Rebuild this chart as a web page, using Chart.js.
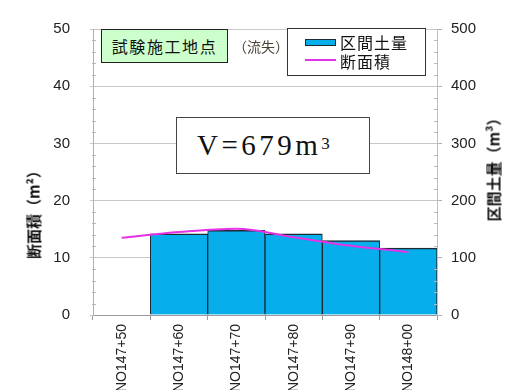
<!DOCTYPE html>
<html>
<head>
<meta charset="utf-8">
<script src="https://cdn.jsdelivr.net/npm/chart.js@4.4.1/dist/chart.umd.min.js"></script>
<style>
  html, body { margin: 0; padding: 0; background: #fff; }
  #wrap { position: relative; width: 506px; height: 390px; overflow: hidden; }
  #c { position: absolute; left: 0; top: 0; }
  .ov { position: absolute; box-sizing: border-box; }
  #site { left: 101px; top: 29px; width: 127px; height: 34px; background: #ccffcc; border: 1.5px solid #222;
          font: 16px "Noto Sans CJK JP", sans-serif; letter-spacing: 1.6px; color: #111;
          display: flex; align-items: center; justify-content: center; }
  #lost { left: 233px; top: 36px; font: 14px "Noto Sans CJK JP", sans-serif; color: #4a4030; }
  #legend { left: 287px; top: 28px; width: 139px; height: 48px; background: #fff; border: 1px solid #333; }
  .lg { position: absolute; left: 52px; font: 16px "Noto Sans CJK JP", sans-serif; color: #111; line-height: 18px; letter-spacing: 1px; }
  #sw1 { position: absolute; left: 17px; top: 10px; width: 29px; height: 5px; background: #06aeec; border: 1px solid #1b2b33; }
  #sw2 { position: absolute; left: 17px; top: 30px; width: 31px; height: 2px; background: #e632e6; }
  #vbox { left: 176px; top: 117px; width: 194px; height: 57px; background: #fff; border: 1px solid #444;
          font: 29px "Liberation Serif", serif; color: #111; letter-spacing: 3.5px;
          display: flex; align-items: center; padding-left: 20px; }
  #vbox sup { font-size: 17px; position: relative; top: -2px; letter-spacing: 0; }
  .atitle { transform: translate(-50%, -50%) rotate(-90deg); white-space: nowrap;
            font: bold 15px "Noto Sans CJK JP", sans-serif; color: #111; }
  #ltitle { left: 33px; top: 211px; }
  #rtitle { left: 493px; top: 166px; }
</style>
</head>
<body>
<div id="wrap">
  <canvas id="c" width="506" height="390"></canvas>
  <div class="ov" id="site">試験施工地点</div>
  <div class="ov" id="lost">（流失）</div>
  <div class="ov" id="legend">
    <div id="sw1"></div><div class="lg" style="top:4px">区間土量</div>
    <div id="sw2"></div><div class="lg" style="top:23px">断面積</div>
  </div>
  <div class="ov" id="vbox">V=679m<sup>3</sup></div>
  <div class="ov atitle" id="ltitle">断面積（m²）</div>
  <div class="ov atitle" id="rtitle">区間土量（m³）</div>
</div>
<script>
// Stations along the survey line
const stations = ['NO147+50', 'NO147+60', 'NO147+70', 'NO147+80', 'NO147+90', 'NO148+00'];
// Cross-section area at each station (m²)
const sectionArea = [13.5, 14.5, 15.1, 13.6, 12.1, 11.0];
// Earth volume of each 10 m interval (m³), total 679
const intervalVolume = [null, 142, 148, 142, 130, 117];
// Axis tick settings
const areaTicks = { min: 0, max: 50, step: 10, minorStep: 2 };
const volumeTicks = { min: 0, max: 500, step: 100, minorStep: 20 };

const tickFont = { family: 'Liberation Sans, Arial, sans-serif', size: 15 };

// Small minor tick marks on both value axes
const minorTicks = {
  id: 'minorTicks',
  afterDraw(chart) {
    const ctx = chart.ctx;
    const y = chart.scales.y, y1 = chart.scales.y1;
    ctx.save();
    ctx.strokeStyle = '#b8b8b8';
    ctx.lineWidth = 1;
    for (let v = areaTicks.min; v <= areaTicks.max; v += areaTicks.minorStep) {
      if (v % areaTicks.step === 0) continue;
      const py = Math.round(y.getPixelForValue(v)) + 0.5;
      ctx.beginPath(); ctx.moveTo(y.right - 1, py); ctx.lineTo(y.right + 3, py); ctx.stroke();
    }
    for (let v = volumeTicks.min; v <= volumeTicks.max; v += volumeTicks.minorStep) {
      if (v % volumeTicks.step === 0) continue;
      const py = Math.round(y1.getPixelForValue(v)) + 0.5;
      ctx.beginPath(); ctx.moveTo(y1.left - 3, py); ctx.lineTo(y1.left + 1, py); ctx.stroke();
    }
    ctx.restore();
  }
};

new Chart(document.getElementById('c'), {
  type: 'bar',
  data: {
    labels: stations,
    datasets: [
      {
        type: 'line',
        label: '断面積',
        data: sectionArea,
        yAxisID: 'y',
        borderColor: '#e632e6',
        borderWidth: 2,
        pointRadius: 0,
        cubicInterpolationMode: 'monotone',
        order: 0
      },
      {
        type: 'bar',
        label: '区間土量',
        data: intervalVolume,
        yAxisID: 'y1',
        backgroundColor: '#06aeec',
        borderColor: '#1b2b33',
        borderWidth: { top: 1.5, left: 1, right: 1, bottom: 0 },
        borderSkipped: false,
        barPercentage: 1,
        categoryPercentage: 1,
        order: 1
      }
    ]
  },
  options: {
    responsive: false,
    devicePixelRatio: 1,
    animation: false,
    layout: { padding: { top: 19, left: 0, right: 0, bottom: 0 } },
    plugins: { legend: { display: false }, tooltip: { enabled: false } },
    scales: {
      x: {
        grid: { offset: true, drawOnChartArea: false, tickLength: 5, color: '#9a9a9a' },
        border: { color: '#9a9a9a' },
        ticks: { minRotation: 90, maxRotation: 90, autoSkip: false, padding: 4, color: '#222',
                 font: { family: 'Liberation Sans, Arial, sans-serif', size: 14 } },
        afterFit(s) { s.height = 75; }
      },
      y: {
        position: 'left',
        min: areaTicks.min, max: areaTicks.max,
        ticks: { stepSize: areaTicks.step, padding: 20, color: '#222', font: tickFont },
        grid: { color: '#c8c8c8', tickLength: 3 },
        border: { color: '#b0b0b0' },
        afterFit(s) { s.width = 93; }
      },
      y1: {
        position: 'right',
        min: volumeTicks.min, max: volumeTicks.max,
        ticks: { stepSize: volumeTicks.step, padding: 9, color: '#222', font: tickFont },
        grid: { drawOnChartArea: false, tickLength: 5, color: '#b0b0b0' },
        border: { color: '#c0c0c0', dash: [3, 2] },
        afterFit(s) { s.width = 69; }
      }
    }
  },
  plugins: [minorTicks]
});
</script>
</body>
</html>
